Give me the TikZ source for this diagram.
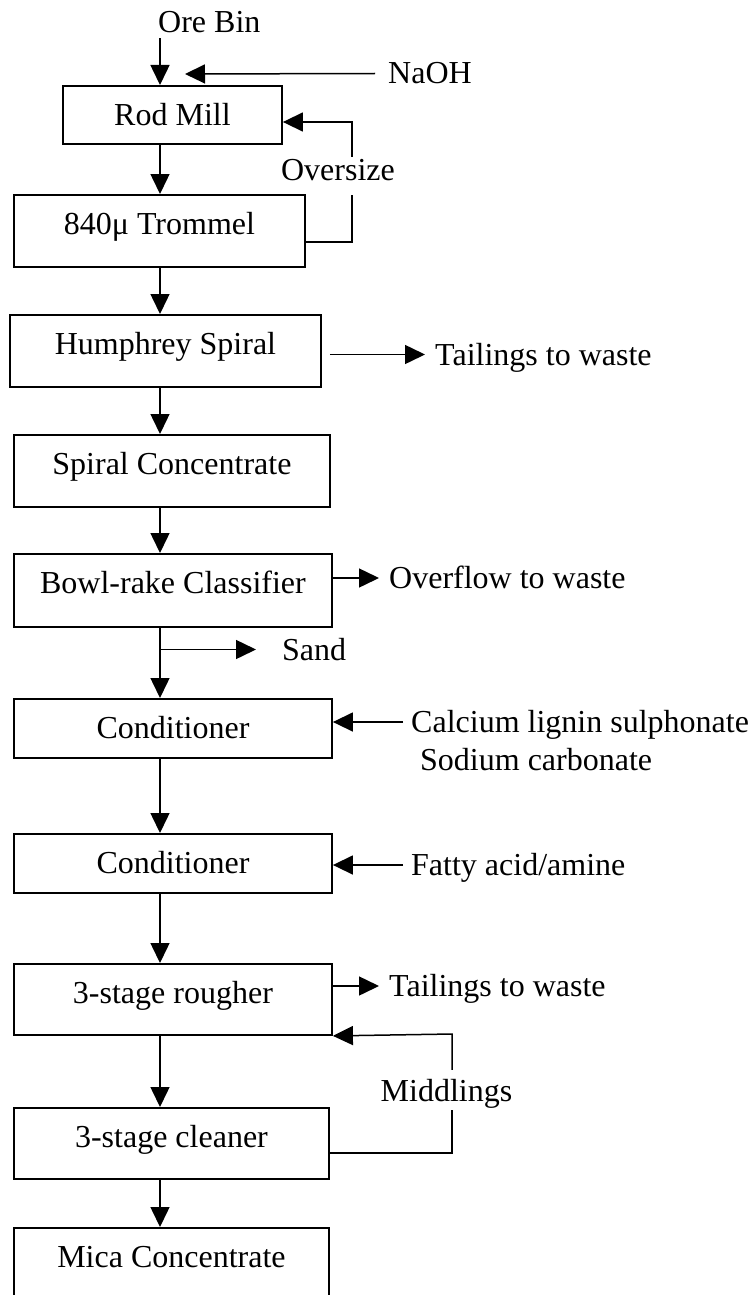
\documentclass[tikz,border=0pt]{standalone}
\usepackage{fontspec}
\setmainfont{Liberation Serif}
\usetikzlibrary{arrows.meta,calc}
\begin{document}
\begin{tikzpicture}[x=1pt,y=-1pt,
  box/.style={draw, line width=1.9pt, rectangle, inner xsep=0pt, inner ysep=0pt,
    text height=40pt, anchor=north west, font=\fontsize{32}{38}\selectfont},
  lbl/.style={inner sep=0pt, text height=21pt, text depth=0pt, anchor=west,
    font=\fontsize{32}{38}\selectfont},
  ln/.style={line width=1.5pt},
  arr/.style={line width=1.5pt, -{Triangle[length=20pt,width=19pt]}}]
\useasboundingbox (0,0) rectangle (751,1295);

% named coordinates
\coordinate (col) at (160,0);
\coordinate (ovb) at (352,242);
\coordinate (ovt) at (352,122);
\coordinate (midb) at (452,1153);
\coordinate (midt) at (452,1034);
\coordinate (naohtip) at (185,74);

% process boxes
\node[box, minimum width=219pt, text depth=18pt] (rod)   at (62,85)   {Rod Mill};
\node[box, minimum width=291pt, text depth=32pt] (trom)  at (13,194)  {840μ Trommel};
\node[box, minimum width=311pt, text depth=32pt] (hum)   at (9,314)   {Humphrey Spiral};
\node[box, minimum width=316pt, text depth=32pt] (spc)   at (13,434)  {Spiral Concentrate};
\node[box, minimum width=318pt, text depth=33pt] (bowl)  at (13,553)  {Bowl-rake Classifier};
\node[box, minimum width=318pt, text depth=19pt] (c1)    at (13,698)  {Conditioner};
\node[box, minimum width=318pt, text depth=19pt] (c2)    at (13,833)  {Conditioner};
\node[box, minimum width=318pt, text depth=31pt] (rough) at (13,963)  {3-stage rougher};
\node[box, minimum width=315pt, text depth=31pt] (clean) at (13,1107) {3-stage cleaner};
\node[box, minimum width=315pt, text depth=40pt] (mica)  at (13,1227) {Mica Concentrate};

% labels
\node[lbl] (ore)   at (158,22.5)  {Ore Bin};
\node[lbl] (naoh)  at (388,73.5)  {NaOH};
\node[lbl, anchor=center] (over) at (338,169.5) {Oversize};
\node[lbl] (tail1) at (435,354.5) {Tailings to waste};
\node[lbl] (ovfl)  at (389,578)   {Overflow to waste};
\node[lbl] (sand)  at (282,649.5) {Sand};
\node[lbl] (calc)  at (411,722)   {Calcium lignin sulphonate};
\node[lbl] (soda)  at (420,760)   {Sodium carbonate};
\node[lbl] (fatty) at (411,865)   {Fatty acid/amine};
\node[lbl] (tail2) at (389,986)   {Tailings to waste};
\node[lbl, anchor=center] (mid) at (446.5,1090.5) {Middlings};

% main flow
\draw[arr] ($(ore.south -| col)+(0,5)$) -- (rod.north -| col);
\draw[arr] ($(naoh.west)+(-13,0)$) -- (naohtip);
\draw[arr] (rod.south -| col) -- (trom.north -| col);
\draw[arr] (trom.south -| col) -- (hum.north -| col);
\draw[arr] (hum.south -| col) -- (spc.north -| col);
\draw[arr] (spc.south -| col) -- (bowl.north -| col);
\draw[arr] (bowl.south -| col) -- (c1.north -| col);
\draw[arr] (c1.south -| col) -- (c2.north -| col);
\draw[arr] (c2.south -| col) -- (rough.north -| col);
\draw[arr] (rough.south -| col) -- (clean.north -| col);
\draw[arr] (clean.south -| col) -- (mica.north -| col);

% oversize recycle
\draw[ln] (trom.east |- ovb) -- (ovb) -- ($(over.south -| ovb)+(0,15)$);
\draw[arr] ($(over.north -| ovb)+(0,-2)$) -- (ovt) -- (rod.east |- ovt);

% side streams
\draw[arr] ($(hum.east |- tail1.west)+(8,0)$) -- ($(tail1.west)+(-10,0)$);
\draw[arr] (bowl.east |- ovfl.west) -- ($(ovfl.west)+(-10,0)$);
\draw[arr] (col |- sand.west) -- ($(sand.west)+(-26,0)$);
\draw[arr] ($(calc.west)+(-8,0)$) -- (c1.east |- calc.west);
\draw[arr] ($(fatty.west)+(-8,0)$) -- (c2.east |- fatty.west);
\draw[arr] (rough.east |- tail2.west) -- ($(tail2.west)+(-10,0)$);

% middlings recycle
\draw[ln] (clean.east |- midb) -- (midb) -- ($(mid.south -| midb)+(0,9)$);
\draw[arr] ($(mid.north -| midb)+(0,-10)$) -- (midt) -- (rough.south east);
\end{tikzpicture}
\end{document}
